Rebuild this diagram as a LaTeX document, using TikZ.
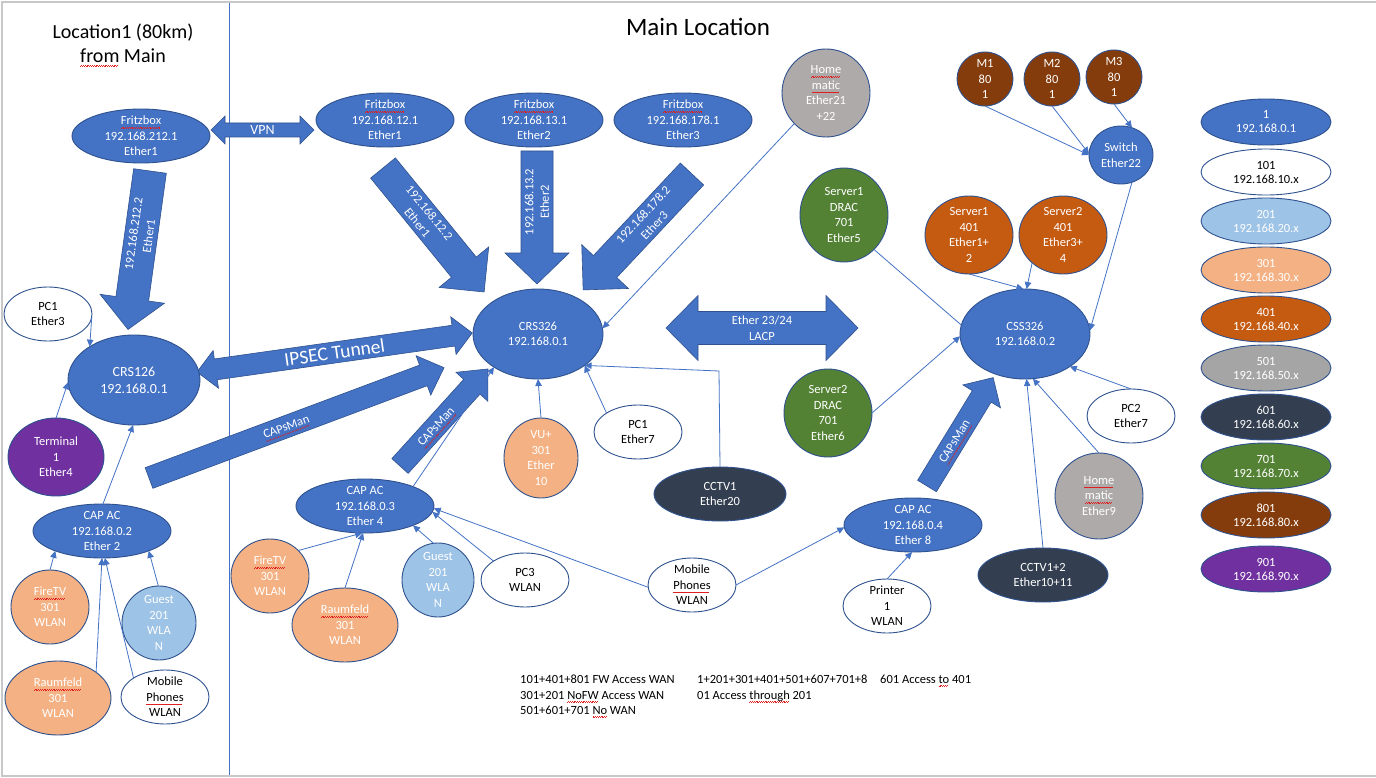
\documentclass[tikz,border=0pt]{standalone}
\usepackage{fontspec}
\setmainfont{Carlito}
\usetikzlibrary{shapes.geometric,arrows.meta}
\definecolor{mblue}{HTML}{4472C4}
\definecolor{mborder}{HTML}{2F528F}
\definecolor{lorange}{HTML}{F4B183}
\definecolor{dorange}{HTML}{C55A11}
\definecolor{lblue}{HTML}{9DC3E6}
\definecolor{mgray}{HTML}{AEAAAA}
\definecolor{lgray}{HTML}{A5A5A5}
\definecolor{mnavy}{HTML}{333F50}
\definecolor{mgreen}{HTML}{548235}
\definecolor{mbrown}{HTML}{843C0C}
\definecolor{mpurple}{HTML}{7030A0}
\definecolor{framegray}{HTML}{C8C8C8}
\definecolor{sqred}{HTML}{E02020}
\newcommand\sq[1]{\setbox0=\hbox{#1}\leavevmode\rlap{\raisebox{0pt}[0pt][0pt]{\color{sqred}\hbox to\wd0{\leaders\hbox{\rule[-3.5pt]{0.9pt}{0.5pt}\rule[-2.8pt]{0.9pt}{0.5pt}}\hfill}}}\box0\relax}
\newcommand{\ellnode}[8]{%
  \node[nd, fill=#6, minimum width={2*#4}, minimum height={2*#5}] (#1) at (#2,#3) {};
  \node[txt, text=#7] at (#1.center) {#8};}
\newcommand{\legendell}[5]{%
  \node[nd, fill=#3, minimum width=130, minimum height=46] (#1) at (1266,#2) {};
  \node[txt, text=#4, font=\fontsize{12.5}{14}\selectfont] at (#1.center) {#5};}
\newcommand{\blockarr}[9]{%
  \begin{scope}[shift={(#1,#2)}, rotate=#3]
    \path[barr] (0,{#5/2}) -- ({#4-#7},{#5/2}) -- ({#4-#7},{#6/2}) -- (#4,0) -- ({#4-#7},{-#6/2}) -- ({#4-#7},{-#5/2}) -- (0,{-#5/2}) -- cycle;
    \node[txt, text=white, transform shape, rotate=#9] at ({(#4-#7)/2},0) {#8};
  \end{scope}}
\newcommand{\dblockarr}[8]{%
  \begin{scope}[shift={(#1,#2)}, rotate=#3]
    \path[barr] (0,0) -- (#7,{#6/2}) -- (#7,{#5/2}) -- ({#4-#7},{#5/2}) -- ({#4-#7},{#6/2}) -- (#4,0) -- ({#4-#7},{-#6/2}) -- ({#4-#7},{-#5/2}) -- (#7,{-#5/2}) -- (#7,{-#6/2}) -- cycle;
    \node[txt, text=white, transform shape] at ({#4/2},0) {#8};
  \end{scope}}
\begin{document}
\begin{tikzpicture}[x=1pt,y=-1pt,
  nd/.style={ellipse, draw=mborder, line width=0.9pt, inner sep=0pt, outer sep=0pt},
  txt/.style={align=center, font=\fontsize{12.5}{15.5}\selectfont, inner sep=0pt},
  conn/.style={draw=mblue, line width=0.8pt, -{Triangle[length=7pt,width=6.5pt]}},
  plain/.style={draw=mblue, line width=0.8pt},
  barr/.style={fill=mblue, draw=mborder, line width=0.6pt},
  bt/.style={anchor=base west, inner sep=0pt, font=\fontsize{12.5}{15.5}\selectfont}]
\useasboundingbox (0,0) rectangle (1376,778);
\fill[white] (0,0) rectangle (1376,778);
\draw[draw=framegray, line width=1.5pt] (1376,2) -- (2,2) -- (2,776) -- (1376,776);
\draw[draw=mblue, line width=0.8pt] (229,3) -- (229,775);

% titles
\node[anchor=base, inner sep=0pt, font=\fontsize{20}{24}\selectfont] (t1) at (123,39) {Location1 (80km)};
\node[anchor=base, inner sep=0pt, font=\fontsize{20}{24}\selectfont] (t2) at (123,63) {\sq{from} Main};
\node[anchor=base, inner sep=0pt, font=\fontsize{25}{30}\selectfont] (t3) at (698,36) {Main Location};

% block arrows (drawn first)
\blockarr{150}{171}{-97.9}{160}{33}{65}{31}{192.168.212.2\\Ether1}{180}
\dblockarr{211}{130}{0}{103}{14}{28}{14}{\fontsize{14}{16}\selectfont VPN}
\blockarr{383}{168}{-50.8}{160}{32}{64}{32}{192.168.12.2\\Ether1}{0}
\blockarr{537}{151}{-90}{133}{32}{64}{31}{192.168.13.2\\Ether2}{180}
\blockarr{692}{174}{-133.2}{159}{32}{64}{32}{192.168.178.2\\Ether3}{180}
\dblockarr{197}{372}{8.07}{278}{21}{38}{19}{\fontsize{19.5}{22}\selectfont IPSEC Tunnel}
\blockarr{149}{478}{20.5}{315}{22}{42}{22}{\sq{CAPsMan}}{0}
\blockarr{400}{466}{47.8}{131}{22}{43}{24}{\sq{CAPsMan}}{0}
\blockarr{927}{486}{58.6}{127}{22}{44}{22}{\sq{CAPsMan}}{0}
\dblockarr{666}{328}{0}{192}{33}{65}{32}{Ether 23/24\\LACP}

% left location
\ellnode{fzL}{141}{136}{69}{27}{mblue}{white}{\sq{Fritzbox}\\192.168.212.1\\Ether1}
\ellnode{pcL}{48}{314}{44}{27}{white}{black}{PC1\\Ether3}
\node[nd, fill=mblue, minimum width=132, minimum height=90] (crs126) at (134,380) {};
\node[txt, text=white, font=\fontsize{14}{17}\selectfont] at (crs126.center) {CRS126\\192.168.0.1};
\ellnode{term}{56}{457}{48}{39}{mpurple}{white}{Terminal\\1\\Ether4}
\ellnode{capL}{102}{531}{69}{27}{mblue}{white}{CAP AC\\192.168.0.2\\Ether 2}
\ellnode{ftvL}{50}{607}{39}{37}{lorange}{white}{\sq{FireTV}\\301\\WLAN}
\ellnode{guestL}{159}{623}{37}{37}{lblue}{white}{Guest\\201\\WLA\\N}
\ellnode{raumL}{58}{698}{53}{37}{lorange}{white}{\sq{Raumfeld}\\301\\WLAN}
\ellnode{mobL}{165}{697}{44}{27}{white}{black}{Mobile\\\sq{Phones}\\WLAN}

% main location
\ellnode{fz12}{385}{120}{69}{27}{mblue}{white}{\sq{Fritzbox}\\192.168.12.1\\Ether1}
\ellnode{fz13}{534}{120}{69}{27}{mblue}{white}{\sq{Fritzbox}\\192.168.13.1\\Ether2}
\ellnode{fz178}{683}{120}{69}{27}{mblue}{white}{\sq{Fritzbox}\\192.168.178.1\\Ether3}
\ellnode{home21}{826}{93}{44}{44}{mgray}{white}{\sq{Home}\\\sq{matic}\\Ether21\\+22}
\ellnode{crs326}{538}{334}{65}{45}{mblue}{white}{CRS326\\192.168.0.1}
\ellnode{vu}{541}{458}{37}{40}{lorange}{white}{VU+\\301\\Ether\\10}
\ellnode{pc1C}{638}{432}{44}{27}{white}{black}{PC1\\Ether7}
\ellnode{cctv1}{720}{494}{66}{27}{mnavy}{white}{CCTV1\\Ether20}
\ellnode{cap3}{365}{506}{69}{27}{mblue}{white}{CAP AC\\192.168.0.3\\Ether 4}
\ellnode{ftvC}{270}{576}{39}{37}{lorange}{white}{\sq{FireTV}\\301\\WLAN}
\ellnode{raumC}{345}{625}{53}{37}{lorange}{white}{\sq{Raumfeld}\\301\\WLAN}
\ellnode{guestC}{438}{580}{36}{37}{lblue}{white}{Guest\\201\\WLA\\N}
\ellnode{pc3}{525}{580}{44}{27}{white}{black}{PC3\\WLAN}
\ellnode{mobC}{692}{585}{44}{27}{white}{black}{Mobile\\\sq{Phones}\\WLAN}
\ellnode{cap4}{913}{525}{69}{27}{mblue}{white}{CAP AC\\192.168.0.4\\Ether 8}
\ellnode{printer}{887}{606}{44}{27}{white}{black}{Printer\\1\\WLAN}
\ellnode{css}{1025}{334}{65}{45}{mblue}{white}{CSS326\\192.168.0.2}
\ellnode{srv2d}{828}{413}{44}{44}{mgreen}{white}{Server2\\DRAC\\701\\Ether6}
\ellnode{srv1d}{844}{215}{44}{47}{mgreen}{white}{Server1\\DRAC\\701\\Ether5}
\ellnode{srv1}{969}{235}{44}{39}{dorange}{white}{Server1\\401\\Ether1+\\2}
\ellnode{srv2}{1063}{235}{44}{39}{dorange}{white}{Server2\\401\\Ether3+\\4}
\ellnode{m1}{985}{79}{28}{27}{mbrown}{white}{M1\\80\\1}
\ellnode{m2}{1052}{79}{28}{27}{mbrown}{white}{M2\\80\\1}
\ellnode{m3}{1114}{77}{28}{27}{mbrown}{white}{M3\\80\\1}
\ellnode{sw}{1121}{155}{32}{29}{mblue}{white}{Switch\\Ether22}
\ellnode{pc2}{1131}{416}{44}{27}{white}{black}{PC2\\Ether7}
\ellnode{home9}{1099}{496}{44}{43}{mgray}{white}{\sq{Home}\\\sq{matic}\\Ether9}
\ellnode{cctv12}{1043}{575}{65}{27}{mnavy}{white}{CCTV1+2\\Ether10+11}

% legend
\legendell{lg1}{122}{mblue}{white}{1\\192.168.0.1}
\legendell{lg101}{172}{white}{black}{101\\192.168.10.x}
\legendell{lg201}{221}{lblue}{white}{201\\192.168.20.x}
\legendell{lg301}{270}{lorange}{white}{301\\192.168.30.x}
\legendell{lg401}{319}{dorange}{white}{401\\192.168.40.x}
\legendell{lg501}{368}{lgray}{white}{501\\192.168.50.x}
\legendell{lg601}{417}{mnavy}{white}{601\\192.168.60.x}
\legendell{lg701}{466}{mgreen}{white}{701\\192.168.70.x}
\legendell{lg801}{515}{mbrown}{white}{801\\192.168.80.x}
\legendell{lg901}{569}{mpurple}{white}{901\\192.168.90.x}

% connectors left
\draw[conn] (pcL.-4) -- (crs126.143);
\draw[conn] (term.90) -- (crs126.182);
\draw[conn] (capL.88) -- (crs126.-91);
\draw[conn] (ftvL.90) -- (capL.203);
\draw[conn] (raumL.34) -- (capL.-90);
\draw[conn] (mobL.149) -- (capL.-84);
\draw[conn] (guestL.91) -- (capL.-23);

% connectors main
\draw[conn] (home21.224) -- (crs326.5);
\draw[conn] (vu.90) -- (crs326.-90);
\draw[conn] (pc1C.149) -- (crs326.-34);
\coordinate (ccorner) at (719,371);
\draw[conn] (cctv1.north) -- (ccorner) -- (crs326.-34);
\draw[conn] (cap3.22) -- (crs326.217);
\draw[conn] (ftvC.42) -- (cap3.-96);
\draw[conn] (raumC.90) -- (cap3.-94);
\draw[conn] (guestC.97) -- (cap3.-22);
\draw[conn] (pc3.149) -- (cap3.-5);
\draw[conn] (mobC.183) -- (cap3.-2);
\draw[conn] (mobC.0) -- (cap4.182);
\draw[conn] (printer.90) -- (cap4.-92);
\draw[conn] (srv2d.0) -- (css.182);
\draw[plain] (srv1d.-49) -- (css.172);
\draw[conn] (srv1.-90) -- (css.92);
\draw[conn] (srv2.222) -- (css.88);
\draw[conn] (sw.-68) -- (css.3);
\draw[conn] (m1.-90) -- (sw.180);
\draw[conn] (m2.-90) -- (sw.178);
\draw[conn] (m3.-90) -- (sw.68);
\draw[conn] (pc2.90) -- (css.-36);
\draw[conn] (home9.90) -- (css.-80);
\draw[conn] (cctv12.90) -- (css.-88);

% bottom notes
\node[bt] (n1) at (520,683) {101+401+801 FW Access WAN};
\node[bt] (n2) at (520,699) {301+201 \sq{NoFW} Access WAN};
\node[bt] (n3) at (520,714) {501+601+701 \sq{No} WAN};
\node[bt] (n4) at (697,683) {1+201+301+401+501+607+701+8};
\node[bt] (n5) at (880,683) {601 Access \sq{to} 401};
\node[bt] (n6) at (697,699) {01 Access \sq{through} 201};
\end{tikzpicture}
\end{document}
